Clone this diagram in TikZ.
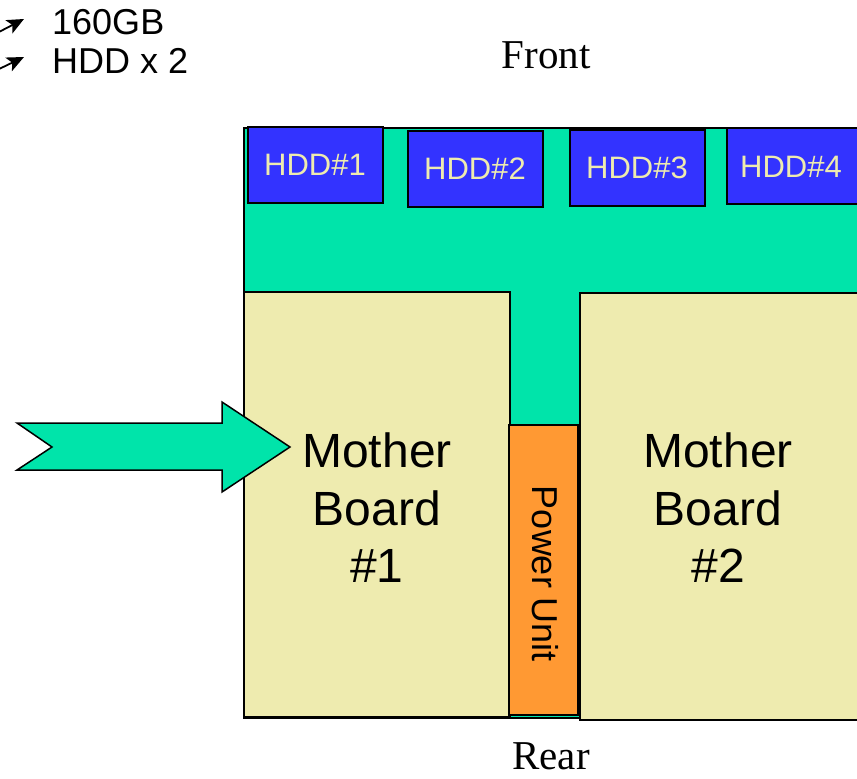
\documentclass[tikz,border=0pt]{standalone}
\usepackage{fontspec}
\setmainfont{Liberation Serif}
\newfontfamily\arialf{Liberation Sans}
\usetikzlibrary{arrows.meta}
\definecolor{teal1}{RGB}{0,228,170}
\definecolor{hddblue}{RGB}{51,51,255}
\definecolor{beige}{RGB}{238,235,175}
\definecolor{orange1}{RGB}{255,153,51}
\tikzset{
  box/.style={draw=black, line width=2pt, inner sep=0pt, anchor=center},
  hdd/.style={box, fill=hddblue, text=beige, font=\arialf\fontsize{31}{36}\selectfont, minimum width=135pt, minimum height=76pt},
  board/.style={box, fill=beige, text=black, align=center, font=\arialf\fontsize{48}{57.5}\selectfont},
  lbl/.style={inner sep=0pt},
  smallarrow/.style={line width=1.8pt, -{Stealth[length=17pt,width=15pt,inset=4pt]}}
}
\begin{document}
\begin{tikzpicture}[x=1pt,y=-1pt]
\useasboundingbox (0,0) rectangle (857,779);
\clip (0,0) rectangle (857,779);
% chassis
\node[box, fill=teal1, minimum width=616pt, minimum height=590pt] (chassis) at (552,423) {};
% HDDs
\node[hdd] (hdd1) at (315,165) {HDD\#1};
\node[hdd] (hdd2) at (475,169) {HDD\#2};
\node[hdd] (hdd3) at (637,168) {HDD\#3};
\node[hdd, minimum width=136pt] (hdd4) at (795,166) {};
\node[lbl, text=beige, font=\arialf\fontsize{31}{36}\selectfont] (hdd4t) at (791,167) {HDD\#4};
% boards
\node[board, minimum width=266pt, minimum height=425pt] (mb1) at (377,504.5) {};
\node[lbl, align=center, font=\arialf\fontsize{48}{57.5}\selectfont] (mb1t) at (377,508) {Mother\\Board\\\#1};
\node[board, minimum width=280pt, minimum height=427pt] (mb2) at (720,506.5) {};
\node[lbl, align=center, font=\arialf\fontsize{48}{57.5}\selectfont] (mb2t) at (718,508) {Mother\\Board\\\#2};
% power unit
\node[box, fill=orange1, minimum width=69pt, minimum height=290pt] (pu) at (543.5,570) {};
\node[lbl, rotate=-90, font=\arialf\fontsize{36}{40}\selectfont] (put) at (545,574) {Power Unit};
% big arrow
\draw[line width=1.5pt, fill=teal1, line join=miter]
  (17,423) -- (222,423) -- (222,402) -- (290,447) -- (222,492) -- (222,470) -- (17,470) -- (52,447) -- cycle;
% labels
\node[lbl, anchor=west, font=\arialf\fontsize{36}{40}\selectfont] (gb) at (52,22.5) {160GB};
\node[lbl, anchor=west, font=\arialf\fontsize{36}{40}\selectfont] (hddx) at (52,61) {HDD x 2};
\node[lbl, font=\fontsize{41}{46}\selectfont] (front) at (546,55) {Front};
\node[lbl, font=\fontsize{41}{46}\selectfont] (rear) at (551,756) {Rear};
% small arrows
\coordinate (a1s) at (-3,33);
\coordinate (a1e) at (24,19);
\coordinate (a2s) at (-3,70);
\coordinate (a2e) at (24,57);
\draw[smallarrow] (a1s) -- (a1e);
\draw[smallarrow] (a2s) -- (a2e);
\end{tikzpicture}
\end{document}
